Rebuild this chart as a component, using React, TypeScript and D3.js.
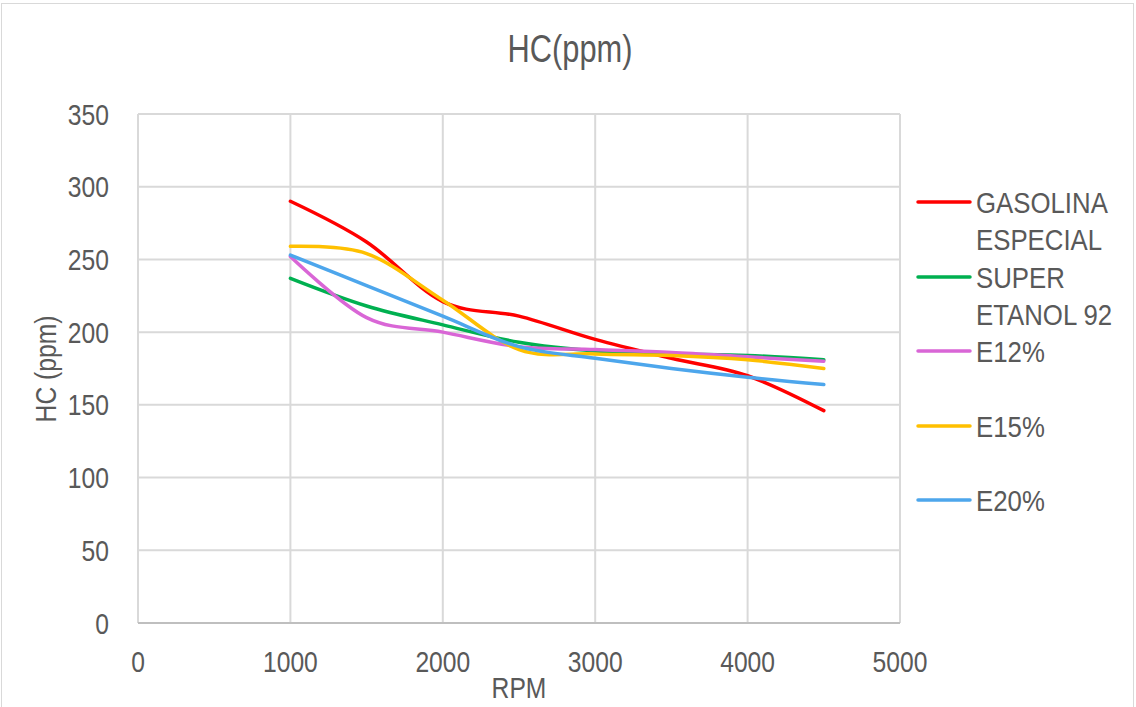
import React from "react";
import * as d3 from "d3";

const rpm = [1000, 1500, 2000, 2500, 3000, 3500, 4000, 4500];
const gasolinaEspecial = [290, 262, 221, 211, 195, 182, 170, 146];
const superEtanol92 = [237, 218, 205, 193, 187, 185, 184, 181];
const e12 = [252, 210, 200, 190, 188, 186, 183, 180];
const e15 = [259, 254, 222, 188, 185, 184, 181, 175];
const e20 = [253, 232, 211, 190, 182, 175, 169, 164];

const seriesNames = [["GASOLINA", "ESPECIAL"], ["SUPER", "ETANOL 92"], ["E12%"], ["E15%"], ["E20%"]];
const seriesColors = ["#FF0000", "#00B050", "#D966D6", "#FFC000", "#4DA6EC"];
const seriesValues = [gasolinaEspecial, superEtanol92, e12, e15, e20];

const xTicks = [0, 1000, 2000, 3000, 4000, 5000];
const yTicks = [0, 50, 100, 150, 200, 250, 300, 350];

const FONT = "'Liberation Sans', Arial, sans-serif";
const TXT = "#595959";

function SText({ x, y, size, sx, anchor = "start", rotate = 0, children }: any) {
  return (
    <text
      transform={`translate(${x},${y}) rotate(${rotate}) scale(${sx},1)`}
      fontSize={size}
      fontFamily={FONT}
      fill={TXT}
      textAnchor={anchor}
    >
      {children}
    </text>
  );
}

export default function App() {
  const W = 1136, H = 707;
  const x = d3.scaleLinear().domain([0, 5000]).range([138, 900]);
  const y = d3.scaleLinear().domain([0, 350]).range([623, 114]);
  const line = d3
    .line<[number, number]>()
    .x((d) => x(d[0]))
    .y((d) => y(d[1]))
    .curve(d3.curveCardinal.tension(0));

  const legendY = [202, 277, 351, 426, 500];

  return (
    <svg width={W} height={H} style={{ position: "absolute", left: 0, top: 0 }}>
      <rect x={0} y={0} width={W} height={H} fill="#fff" />
      <rect x={1.5} y={3.5} width={1132} height={H + 10} fill="none" stroke="#d9d9d9" strokeWidth={1} />
      {/* grid */}
      {yTicks.map((t) => (
        <line key={"gy" + t} x1={x(0)} x2={x(5000)} y1={y(t)} y2={y(t)} stroke="#d9d9d9" strokeWidth={2} />
      ))}
      {xTicks.map((t) => (
        <line key={"gx" + t} x1={x(t)} x2={x(t)} y1={y(0)} y2={y(350)} stroke="#d9d9d9" strokeWidth={2} />
      ))}
      <line x1={x(0)} x2={x(5000)} y1={y(0)} y2={y(0)} stroke="#bfbfbf" strokeWidth={2} />
      {/* tick labels */}
      {yTicks.map((t) => (
        <SText key={"ty" + t} x={109} y={y(t) + 10.5} size={29} sx={0.85} anchor="end">
          {t}
        </SText>
      ))}
      {xTicks.map((t) => (
        <SText key={"tx" + t} x={x(t)} y={672} size={29} sx={0.85} anchor="middle">
          {t}
        </SText>
      ))}
      {/* titles */}
      <SText x={570} y={62} size={39} sx={0.79} anchor="middle">HC(ppm)</SText>
      <SText x={519} y={698} size={29} sx={0.85} anchor="middle">RPM</SText>
      <SText x={56} y={369} size={29} sx={0.85} anchor="middle" rotate={-90}>HC (ppm)</SText>
      {/* series */}
      {seriesValues.map((vals, i) => (
        <path
          key={"s" + i}
          d={line(rpm.map((r, j) => [r, vals[j]] as [number, number])) || ""}
          fill="none"
          stroke={seriesColors[i]}
          strokeWidth={3.5}
          strokeLinecap="round"
        />
      ))}
      {/* legend */}
      {seriesNames.map((names, i) => (
        <g key={"l" + i}>
          <line x1={918} x2={970} y1={legendY[i]} y2={legendY[i]} stroke={seriesColors[i]} strokeWidth={3.5} strokeLinecap="round" />
          {names.map((n, k) => (
            <SText key={k} x={976} y={legendY[i] + 11 + k * 36.7} size={30} sx={0.86}>
              {n}
            </SText>
          ))}
        </g>
      ))}
    </svg>
  );
}
